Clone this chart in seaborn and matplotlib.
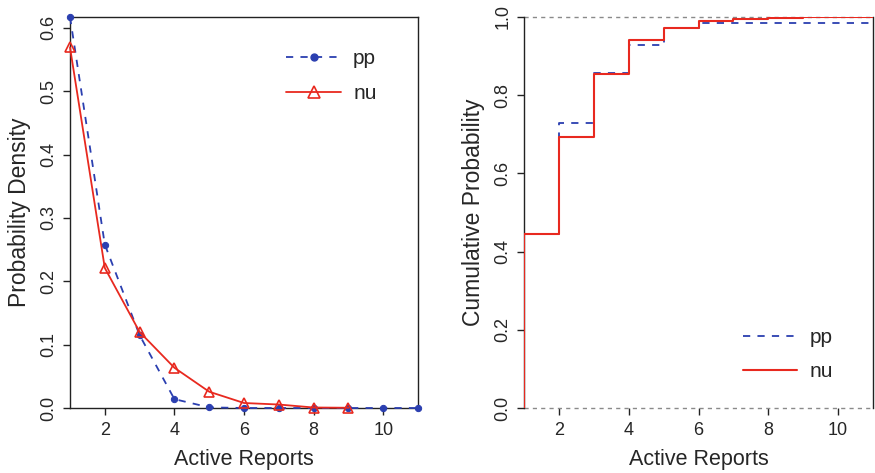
import matplotlib
matplotlib.use("Agg")
import matplotlib.pyplot as plt
import numpy as np
import pandas as pd
import seaborn as sns
from matplotlib.lines import Line2D

# Per-count probability density for the two fitted models
x_pp = [1, 2, 3, 4, 5, 6, 7, 8, 9, 10, 11]
density_pp = [0.617, 0.258, 0.115, 0.014, 0.001, 0.0, 0.0, 0.0, 0.0, 0.0, 0.0]
x_nu = [1, 2, 3, 4, 5, 6, 7, 8, 9]
density_nu = [0.569, 0.221, 0.120, 0.0635, 0.0257, 0.0079, 0.0055, 0.0008, 0.0004]

# Empirical cumulative probability at each count
cum_x = [1, 2, 3, 4, 5, 6, 7, 8, 9, 10, 11]
cum_pp = [0.444, 0.728, 0.858, 0.928, 0.971, 0.985, 0.985, 0.985, 0.985, 0.985, 0.985]
cum_nu = [0.444, 0.694, 0.854, 0.940, 0.972, 0.990, 0.994, 0.997, 1.0, 1.0, 1.0]

x_ticks = [2, 4, 6, 8, 10]
dens_ticks = [0.0, 0.1, 0.2, 0.3, 0.4, 0.5, 0.6]
cum_ticks = [0.0, 0.2, 0.4, 0.6, 0.8, 1.0]

BLUE = "#2B3FB0"
RED = "#E8291F"

sns.set_style("ticks")
plt.rcParams["font.family"] = ["Liberation Sans", "DejaVu Sans"]
plt.rcParams["axes.linewidth"] = 1.0
plt.rcParams["axes.edgecolor"] = "#222222"

fig = plt.figure(figsize=(8.75, 4.73), dpi=100)
ax1 = fig.add_axes([0.0800, 0.1374, 0.3977, 0.8267])
ax2 = fig.add_axes([0.5989, 0.1374, 0.3989, 0.8267])

XLAB = 15.5
YLAB = 16.5
TICK = 13
LEG = 15

# ---- density panel ----
df_pp = pd.DataFrame({"x": x_pp, "y": density_pp})
df_nu = pd.DataFrame({"x": x_nu, "y": density_nu})
sns.lineplot(data=df_pp, x="x", y="y", ax=ax1, color=BLUE, lw=1.3,
             estimator=None, sort=False,
             linestyle=(0, (4, 4)), marker="o", markersize=4.5,
             markeredgecolor=BLUE, markerfacecolor=BLUE, clip_on=False, zorder=3)
sns.lineplot(data=df_nu, x="x", y="y", ax=ax1, color=RED, lw=1.3,
             estimator=None, sort=False,
             marker="^", markersize=7, markerfacecolor="none",
             markeredgecolor=RED, markeredgewidth=1.2, clip_on=False, zorder=4)
ax1.set_xlim(1, 11)
ax1.set_ylim(0, 0.617)
ax1.set_xticks(x_ticks)
ax1.set_yticks(dens_ticks)
ax1.set_yticklabels([f"{v:.1f}" for v in dens_ticks])
ax1.set_xlabel("Active Reports", fontsize=XLAB, labelpad=7)
ax1.set_ylabel("Probability Density", fontsize=YLAB, labelpad=7)
for s in ax1.spines.values():
    s.set_visible(True)

leg1 = [Line2D([], [], color=BLUE, lw=1.3, linestyle=(0, (4, 4)), marker="o",
               markersize=5),
        Line2D([], [], color=RED, lw=1.3, marker="^", markersize=9,
               markerfacecolor="none", markeredgewidth=1.2)]
ax1.legend(leg1, ["pp", "nu"], loc="upper right", bbox_to_anchor=(0.935, 0.965),
           frameon=False, fontsize=LEG, handlelength=2.6, labelspacing=0.75,
           handletextpad=0.6)

# ---- cumulative panel ----
def steps(xs, ys):
    return pd.DataFrame({"x": [xs[0]] + list(xs), "y": [0.0] + list(ys)})

for level in (0.0, 1.0):
    ax2.axhline(level, color="#8a8a8a", lw=1.0, linestyle=(0, (3, 3)),
                zorder=1, clip_on=False)
sns.lineplot(data=steps(cum_x, cum_pp), x="x", y="y", ax=ax2, color=BLUE,
             lw=1.3, linestyle=(0, (4, 4)), drawstyle="steps-post",
             estimator=None, sort=False, zorder=3)
sns.lineplot(data=steps(cum_x, cum_nu), x="x", y="y", ax=ax2, color=RED,
             lw=1.5, drawstyle="steps-post", estimator=None, sort=False,
             zorder=4)
ax2.set_xlim(1, 11)
ax2.set_ylim(0, 1.0)
ax2.set_xticks(x_ticks)
ax2.set_yticks(cum_ticks)
ax2.set_yticklabels([f"{v:.1f}" for v in cum_ticks])
ax2.set_xlabel("Active Reports", fontsize=XLAB, labelpad=7)
ax2.set_ylabel("Cumulative Probability", fontsize=YLAB, labelpad=7)
ax2.spines["top"].set_visible(False)
ax2.spines["bottom"].set_visible(False)
ax2.spines["left"].set_visible(True)
ax2.spines["right"].set_visible(True)

leg2 = [Line2D([], [], color=BLUE, lw=1.3, linestyle=(0, (4, 4))),
        Line2D([], [], color=RED, lw=1.5)]
ax2.legend(leg2, ["pp", "nu"], loc="lower right", bbox_to_anchor=(0.94, 0.02),
           frameon=False, fontsize=LEG, handlelength=2.6, labelspacing=0.75,
           handletextpad=0.6)

for ax in (ax1, ax2):
    ax.tick_params(axis="both", direction="out", length=5, width=1.0,
                   labelsize=TICK, color="#222222", pad=5)
    ax.tick_params(axis="y", labelrotation=90)
    for lab in ax.get_yticklabels():
        lab.set_va("center")
    ax.tick_params(axis="y", pad=4)

fig.savefig("out.png", dpi=100)
